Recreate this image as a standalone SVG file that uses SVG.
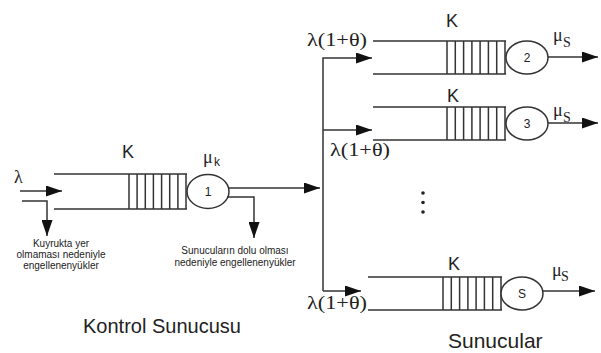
<svg xmlns="http://www.w3.org/2000/svg" width="601" height="353" viewBox="0 0 601 353">
<defs>
<marker id="ah" markerUnits="userSpaceOnUse" markerWidth="16" markerHeight="11" refX="16" refY="5.5" orient="auto">
<path d="M0,0 L16,5.5 L0,11 z" fill="#111"/>
</marker>
<style>
.ln{fill:none;stroke:#333;stroke-width:1.5}
.ar{fill:none;stroke:#333;stroke-width:1.5;marker-end:url(#ah)}
.srv{fill:#fff;stroke:#333;stroke-width:1.5}
.sans{font-family:"Liberation Sans",Arial,sans-serif;fill:#222}
.serif{font-family:"Liberation Serif","Times New Roman",serif;fill:#222}
.k{font-size:18px}
.small{font-size:10px;text-anchor:middle}
.big{font-size:20px}
.id{font-size:12px;text-anchor:middle}
</style>
</defs>
<rect width="601" height="353" fill="#fff"/>

<g id="control-queue">
<path class="ln" d="M54,174 H187 M54,209 H187"/>
<path class="ln" d="M129,174 V209 M137.1,174 V209 M145.3,174 V209 M153.4,174 V209 M161.6,174 V209 M169.7,174 V209 M177.9,174 V209 M186,174 V209"/>
<text class="sans k" x="122" y="158">K</text>
</g>
<g id="server-1">
<ellipse class="srv" cx="208" cy="191.5" rx="21" ry="17"/>
<text class="sans id" x="208" y="196" font-size="11">1</text>
<text class="serif" x="203" y="163" font-size="18">μ</text>
<text class="sans" x="214" y="166" font-size="12">k</text>
</g>

<g id="queue-2">
<path class="ln" d="M373,41 H506 M373,74 H506"/>
<path class="ln" d="M447,41 V74 M455.3,41 V74 M463.6,41 V74 M471.9,41 V74 M480.1,41 V74 M488.4,41 V74 M496.7,41 V74 M505,41 V74"/>
<text class="sans k" x="446" y="27">K</text>
</g>
<g id="server-2">
<ellipse class="srv" cx="527" cy="57.5" rx="21" ry="16.5"/>
<text class="sans id" x="527" y="62">2</text>
<text class="serif" x="553" y="41" font-size="18">μ</text>
<text class="serif" x="563" y="47" font-size="14">S</text>
</g>

<g id="queue-3">
<path class="ln" d="M373,107 H506 M373,140 H506"/>
<path class="ln" d="M447,107 V140 M455.3,107 V140 M463.6,107 V140 M471.9,107 V140 M480.1,107 V140 M488.4,107 V140 M496.7,107 V140 M505,107 V140"/>
<text class="sans k" x="447" y="102">K</text>
</g>
<g id="server-3">
<ellipse class="srv" cx="527" cy="123.5" rx="21" ry="16.5"/>
<text class="sans id" x="527" y="128">3</text>
<text class="serif" x="553" y="116" font-size="18">μ</text>
<text class="serif" x="563" y="122" font-size="14">S</text>
</g>

<g id="queue-s">
<path class="ln" d="M368,277 H502 M368,310 H502"/>
<path class="ln" d="M443,277 V310 M451.3,277 V310 M459.6,277 V310 M467.9,277 V310 M476.1,277 V310 M484.4,277 V310 M492.7,277 V310 M501,277 V310"/>
<text class="sans k" x="448" y="270">K</text>
</g>
<g id="server-s">
<ellipse class="srv" cx="522" cy="293.5" rx="21" ry="16.5"/>
<text class="sans id" x="522" y="298">S</text>
<text class="serif" x="552" y="276" font-size="18">μ</text>
<text class="serif" x="561" y="281" font-size="14">S</text>
</g>

<g id="ellipsis">
<circle cx="423" cy="193" r="1.8" fill="#222"/>
<circle cx="423" cy="202.5" r="1.8" fill="#222"/>
<circle cx="423" cy="212" r="1.8" fill="#222"/>
</g>

<g id="connectors">
<path class="ar" d="M20,191 H62"/>
<path class="ar" d="M22,201 H47 V236"/>
<path class="ar" d="M229,188 H320"/>
<path class="ar" d="M227,197 H254 V238"/>
<path class="ar" d="M323,291 V58 H372"/>
<path class="ar" d="M323,130 H372"/>
<path class="ar" d="M323,291 H361"/>
<path class="ar" d="M548,57 H598"/>
<path class="ar" d="M548,123 H598"/>
<path class="ar" d="M543,291 H595"/>
</g>

<g id="labels">
<text class="serif" x="14" y="183" font-size="18">λ</text>
<text class="serif" x="307" y="46" font-size="18" textLength="60" lengthAdjust="spacingAndGlyphs">λ(1+θ)</text>
<text class="serif" x="330" y="156" font-size="18" textLength="60" lengthAdjust="spacingAndGlyphs">λ(1+θ)</text>
<text class="serif" x="307" y="309" font-size="18" textLength="60" lengthAdjust="spacingAndGlyphs">λ(1+θ)</text>
<text class="sans small" x="61" y="247">Kuyrukta yer</text>
<text class="sans small" x="61" y="258">olmaması nedeniyle</text>
<text class="sans small" x="61" y="269">engellenenyükler</text>
<text class="sans small" x="235" y="254">Sunucuların dolu olması</text>
<text class="sans small" x="235" y="266">nedeniyle engellenenyükler</text>
<text class="sans big" x="83" y="333">Kontrol Sunucusu</text>
<text class="sans" x="448" y="348" font-size="21">Sunucular</text>
</g>
</svg>
